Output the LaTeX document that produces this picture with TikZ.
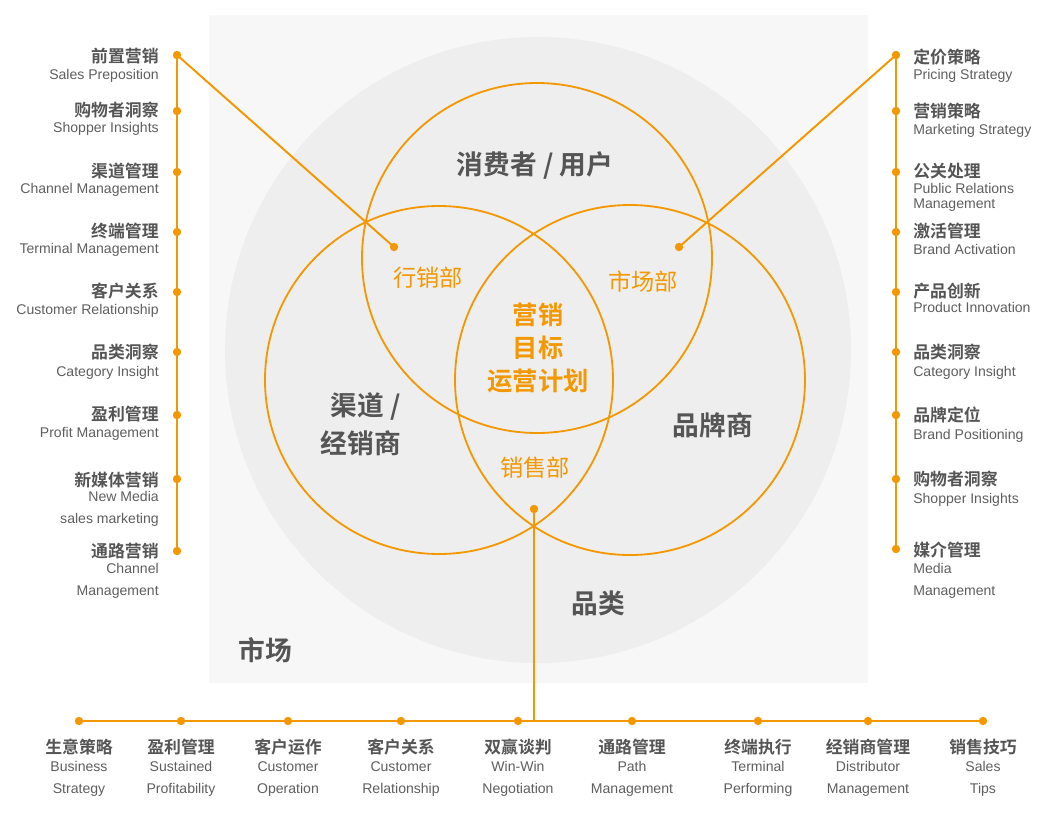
\documentclass[tikz,border=0pt]{standalone}
\usepackage{fontspec}
\setmainfont{Liberation Sans}
\newfontfamily\cjk{Noto Sans CJK SC}[BoldFont={Noto Sans CJK SC Bold}]
\definecolor{mkorange}{HTML}{F39800}
\definecolor{headgray}{HTML}{555555}
\definecolor{engray}{HTML}{5E5E5E}
\definecolor{pagegray}{HTML}{F7F7F7}
\definecolor{roundgray}{HTML}{EEEEEE}
\tikzset{
  ptdot/.style={circle, fill=mkorange, inner sep=0pt, minimum size=0.21cm},
  conn/.style={mkorange, line width=1.4pt},
  ring/.style={mkorange, line width=1.3pt},
  itemhead/.style={font=\cjk\bfseries\fontsize{12}{14}\selectfont, text=headgray, inner sep=0pt},
  itemen/.style={font=\fontsize{10}{15}\selectfont, text=engray, inner sep=0pt},
  biglbl/.style={font=\cjk\bfseries\fontsize{19}{27}\selectfont, text=headgray, inner sep=0pt},
  dept/.style={font=\cjk\fontsize{16.5}{20}\selectfont, text=mkorange, inner sep=0pt},
  core/.style={font=\cjk\bfseries\fontsize{18}{23.5}\selectfont, text=mkorange, inner sep=0pt, align=center}
}
\begin{document}
\begin{tikzpicture}[x=0.025cm, y=-0.025cm]
  \useasboundingbox (0,0) rectangle (1060,812);

  % Market square and category round
  \fill[pagegray] (209,15) rectangle (868,683);
  \fill[roundgray] (538,350) circle (313);

  % Three sets
  \draw[ring] (537,258) circle (175);
  \draw[ring] (439,380) circle (174);
  \draw[ring] (630,380) circle (175);

  % Labels of the sets
  \node[biglbl] (consumer) at (535,165) {消费者 / 用户};
  \node[biglbl, align=right, anchor=east] (dealer) at (401,424) {渠道 /\\经销商};
  \node[biglbl] (brand) at (713,425) {品牌商};
  \node[biglbl] (category) at (598,603) {品类};
  \node[biglbl] (market) at (265,650) {市场};
  \node[dept] (trade) at (428,278) {行销部};
  \node[dept] (mktdept) at (643,282) {市场部};
  \node[dept] (sales) at (535,468) {销售部};
  \node[core] (goal) at (538,348) {营销\\目标\\运营计划};

  % Inner points
  \node[ptdot] (in1) at (394,247) {};
  \node[ptdot] (in2) at (679,247) {};
  \node[ptdot] (in3) at (534,509) {};

  % Left column
  \node[ptdot] (l1) at (177,55) {};
  \node[itemhead, anchor=east] (l1h) at (159,56) {前置营销};
  \node[itemen, anchor=base east] (l1e) at (159,79) {Sales Preposition};
  \node[ptdot] (l2) at (177,111) {};
  \node[itemhead, anchor=east] (l2h) at (159,110) {购物者洞察};
  \node[itemen, anchor=base east] (l2e) at (159,132) {Shopper Insights};
  \node[ptdot] (l3) at (177,172) {};
  \node[itemhead, anchor=east] (l3h) at (159,171) {渠道管理};
  \node[itemen, anchor=base east] (l3e) at (159,193) {Channel Management};
  \node[ptdot] (l4) at (177,232) {};
  \node[itemhead, anchor=east] (l4h) at (159,231) {终端管理};
  \node[itemen, anchor=base east] (l4e) at (159,253) {Terminal Management};
  \node[ptdot] (l5) at (177,292) {};
  \node[itemhead, anchor=east] (l5h) at (159,291) {客户关系};
  \node[itemen, anchor=base east] (l5e) at (159,314) {Customer Relationship};
  \node[ptdot] (l6) at (177,352) {};
  \node[itemhead, anchor=east] (l6h) at (159,352) {品类洞察};
  \node[itemen, anchor=base east] (l6e) at (159,376) {Category Insight};
  \node[ptdot] (l7) at (177,415) {};
  \node[itemhead, anchor=east] (l7h) at (159,414) {盈利管理};
  \node[itemen, anchor=base east] (l7e) at (159,437) {Profit Management};
  \node[ptdot] (l8) at (177,479) {};
  \node[itemhead, anchor=east] (l8h) at (159,480) {新媒体营销};
  \node[itemen, anchor=base east, align=right] (l8e) at (159,523) {New Media\\sales marketing};
  \node[ptdot] (l9) at (177,551) {};
  \node[itemhead, anchor=east] (l9h) at (159,551) {通路营销};
  \node[itemen, anchor=base east, align=right] (l9e) at (159,595) {Channel\\Management};

  % Right column
  \node[ptdot] (r1) at (896,55) {};
  \node[itemhead, anchor=west] (r1h) at (913,57) {定价策略};
  \node[itemen, anchor=base west] (r1e) at (913,79) {Pricing Strategy};
  \node[ptdot] (r2) at (896,111) {};
  \node[itemhead, anchor=west] (r2h) at (913,111) {营销策略};
  \node[itemen, anchor=base west] (r2e) at (913,134) {Marketing Strategy};
  \node[ptdot] (r3) at (896,172) {};
  \node[itemhead, anchor=west] (r3h) at (913,171) {公关处理};
  \node[itemen, anchor=base west, align=left, font=\fontsize{10}{10}\selectfont] (r3e) at (913,208) {Public Relations\\Management};
  \node[ptdot] (r4) at (896,232) {};
  \node[itemhead, anchor=west] (r4h) at (913,231) {激活管理};
  \node[itemen, anchor=base west] (r4e) at (913,254) {Brand Activation};
  \node[ptdot] (r5) at (896,292) {};
  \node[itemhead, anchor=west] (r5h) at (913,291) {产品创新};
  \node[itemen, anchor=base west] (r5e) at (913,312) {Product Innovation};
  \node[ptdot] (r6) at (896,352) {};
  \node[itemhead, anchor=west] (r6h) at (913,352) {品类洞察};
  \node[itemen, anchor=base west] (r6e) at (913,376) {Category Insight};
  \node[ptdot] (r7) at (896,415) {};
  \node[itemhead, anchor=west] (r7h) at (913,415) {品牌定位};
  \node[itemen, anchor=base west] (r7e) at (913,439) {Brand Positioning};
  \node[ptdot] (r8) at (896,479) {};
  \node[itemhead, anchor=west] (r8h) at (913,479) {购物者洞察};
  \node[itemen, anchor=base west] (r8e) at (913,503) {Shopper Insights};
  \node[ptdot] (r9) at (896,549) {};
  \node[itemhead, anchor=west] (r9h) at (913,550) {媒介管理};
  \node[itemen, anchor=base west, align=left] (r9e) at (913,595) {Media\\Management};

  % Bottom row
  \node[ptdot] (b1) at (79,721) {};
  \node[itemhead] (b1h) at (79,747) {生意策略};
  \node[itemen, anchor=base, align=center] (b1e) at (79,793) {Business\\Strategy};
  \node[ptdot] (b2) at (181,721) {};
  \node[itemhead] (b2h) at (181,747) {盈利管理};
  \node[itemen, anchor=base, align=center] (b2e) at (181,793) {Sustained\\Profitability};
  \node[ptdot] (b3) at (288,721) {};
  \node[itemhead] (b3h) at (288,747) {客户运作};
  \node[itemen, anchor=base, align=center] (b3e) at (288,793) {Customer\\Operation};
  \node[ptdot] (b4) at (401,721) {};
  \node[itemhead] (b4h) at (401,747) {客户关系};
  \node[itemen, anchor=base, align=center] (b4e) at (401,793) {Customer\\Relationship};
  \node[ptdot] (b5) at (518,721) {};
  \node[itemhead] (b5h) at (518,747) {双赢谈判};
  \node[itemen, anchor=base, align=center] (b5e) at (518,793) {Win-Win\\Negotiation};
  \node[ptdot] (b6) at (632,721) {};
  \node[itemhead] (b6h) at (632,747) {通路管理};
  \node[itemen, anchor=base, align=center] (b6e) at (632,793) {Path\\Management};
  \node[ptdot] (b7) at (758,721) {};
  \node[itemhead] (b7h) at (758,747) {终端执行};
  \node[itemen, anchor=base, align=center] (b7e) at (758,793) {Terminal\\Performing};
  \node[ptdot] (b8) at (868,721) {};
  \node[itemhead] (b8h) at (868,747) {经销商管理};
  \node[itemen, anchor=base, align=center] (b8e) at (868,793) {Distributor\\Management};
  \node[ptdot] (b9) at (983,721) {};
  \node[itemhead] (b9h) at (983,747) {销售技巧};
  \node[itemen, anchor=base, align=center] (b9e) at (983,793) {Sales\\Tips};
  \coordinate (join) at (534,721);

  % Connectors
  \draw[conn] (l1.center) -- (l9.center);
  \draw[conn] (r1.center) -- (r9.center);
  \draw[conn] (b1.center) -- (b9.center);
  \draw[conn] (in1.center) -- (l1.center);
  \draw[conn] (in2.center) -- (r1.center);
  \draw[conn] (in3.center) -- (join);
\end{tikzpicture}
\end{document}
